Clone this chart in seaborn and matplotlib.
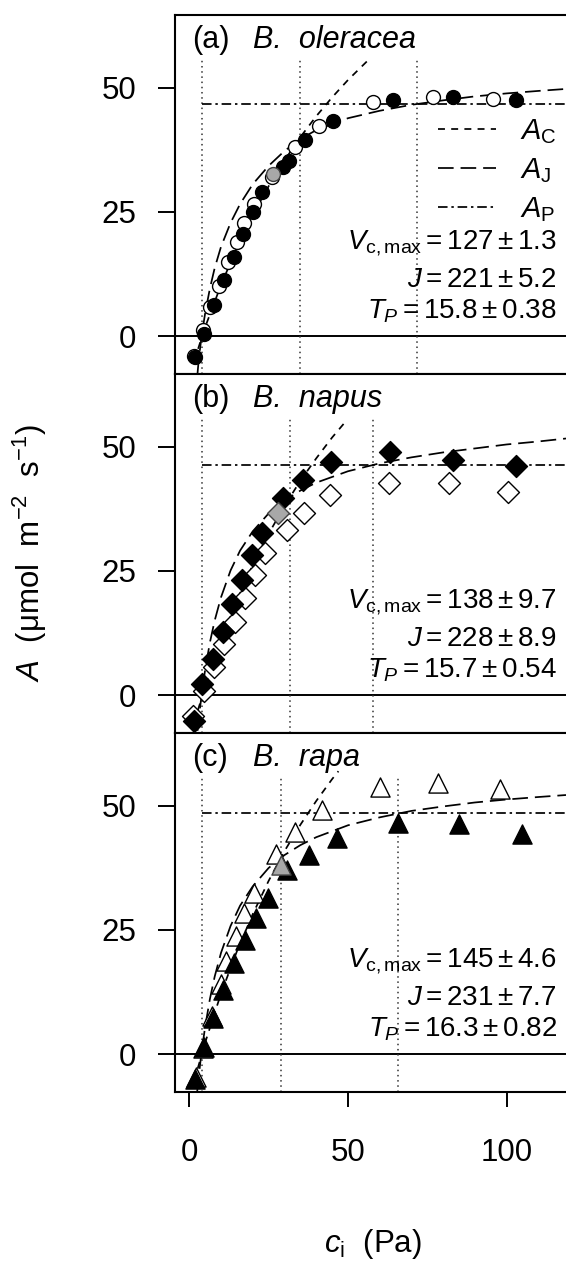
import matplotlib
matplotlib.use("Agg")
import matplotlib.pyplot as plt
from matplotlib.lines import Line2D
import seaborn as sns

# =========================================================
# DATA
# =========================================================

# (a) B. oleracea - circles
a_fill_x = [1.8, 4.6, 7.7, 10.8, 14.0, 17.0, 20.2, 23.0, 29.4, 31.5, 36.5, 45.4, 64.3, 83.2, 103.1]
a_fill_y = [-4.3, 0.4, 6.2, 11.3, 16.0, 20.5, 25.0, 29.0, 34.0, 35.2, 39.5, 43.3, 47.5, 48.2, 47.6]
a_open_x = [1.6, 4.4, 6.5, 9.5, 12.2, 14.9, 17.3, 20.3, 26.0, 33.2, 40.8, 58.0, 76.7, 95.8]
a_open_y = [-4.0, 1.2, 5.8, 10.0, 15.0, 19.0, 22.7, 26.6, 32.0, 38.1, 42.4, 47.2, 48.2, 47.7]
a_grey_x = [26.5]
a_grey_y = [32.6]

# (b) B. napus - diamonds
b_fill_x = [1.6, 4.0, 7.6, 10.7, 13.5, 16.5, 19.7, 22.8, 29.6, 35.8, 44.7, 63.2, 83.2, 102.9]
b_fill_y = [-5.2, 2.2, 7.2, 12.7, 18.4, 23.2, 28.2, 32.6, 39.7, 43.4, 46.9, 48.9, 47.4, 46.1]
b_open_x = [1.3, 4.5, 7.8, 10.9, 14.5, 17.5, 20.6, 23.8, 30.7, 36.2, 44.3, 63.0, 81.9, 100.5]
b_open_y = [-4.3, 0.8, 5.6, 10.3, 14.8, 19.5, 24.1, 28.6, 33.3, 36.6, 40.3, 42.8, 42.8, 41.0]
b_grey_x = [28.0]
b_grey_y = [36.6]

# (c) B. rapa - triangles
c_fill_x = [1.7, 4.6, 7.6, 10.7, 14.0, 17.5, 21.0, 24.8, 30.7, 37.6, 46.5, 65.7, 85.1, 104.9]
c_fill_y = [-5.0, 1.5, 7.3, 13.0, 18.4, 23.0, 27.5, 31.4, 37.1, 40.1, 43.6, 46.5, 46.3, 44.4]
c_open_x = [2.2, 4.2, 7.3, 9.9, 11.5, 14.6, 17.2, 20.4, 27.2, 33.3, 41.8, 60.1, 78.5, 97.9]
c_open_y = [-4.6, 1.2, 7.6, 14.1, 18.8, 23.8, 28.5, 32.5, 40.3, 44.8, 49.2, 53.9, 54.6, 53.4]
c_grey_x = [28.8]
c_grey_y = [38.1]

# model curves
a_ac_x = [1.5, 5, 10, 15, 20, 25, 30, 35, 40, 45, 50, 57]
a_ac_y = [-5.1, 1.8, 10.3, 17.8, 24.4, 30.2, 35.4, 40.1, 44.3, 48.1, 51.6, 56.0]
a_aj_x = [2.6, 3.0, 3.5, 4.0, 5, 6.5, 8, 10, 13, 16, 20, 25, 30, 35, 40, 50, 60, 70, 80, 90, 100, 110, 118.7]
a_aj_y = [-7.5, -4.6, -2.0, 0.5, 4.6, 9.6, 13.7, 18.0, 22.8, 26.6, 30.6, 34.3, 37.3, 39.7, 41.5, 43.9, 45.4, 46.6,
          47.5, 48.3, 48.9, 49.4, 49.8]
a_ap = 46.8

b_ac_x = [1.5, 5, 10, 15, 20, 25, 30, 35, 40, 45, 49.5]
b_ac_y = [-5.6, 1.7, 11.0, 19.1, 26.2, 32.5, 38.1, 43.2, 47.7, 51.9, 55.3]
b_aj_x = [2.6, 3.0, 3.5, 4.0, 5, 6.5, 8, 10, 13, 16, 20, 25, 30, 35, 40, 50, 60, 70, 80, 90, 100, 110, 118.7]
b_aj_y = [-7.2, -4.7, -2.0, 0.6, 5.1, 10.6, 15.0, 19.7, 25.1, 29.1, 33.0, 36.6, 39.2, 41.2, 42.8, 45.1, 46.7, 47.9,
          48.9, 49.7, 50.5, 51.1, 51.7]
b_ap = 46.4

c_ac_x = [1.5, 5, 10, 15, 20, 25, 30, 35, 40, 45, 47]
c_ac_y = [-5.5, 2.3, 12.2, 20.7, 28.2, 34.9, 40.9, 46.2, 51.0, 55.4, 57.0]
c_aj_x = [2.5, 3.0, 3.5, 4.0, 5, 6.5, 8, 10, 13, 16, 20, 25, 30, 35, 40, 50, 60, 70, 80, 90, 100, 110, 118.7]
c_aj_y = [-7.5, -4.4, -1.6, 1.0, 5.5, 11.1, 15.6, 20.4, 25.8, 29.9, 33.8, 37.5, 40.1, 42.1, 43.7, 46.1, 47.7, 49.0,
          49.9, 50.7, 51.3, 51.8, 52.2]
c_ap = 48.5

# transition / limit lines (dotted)
a_dots = [3.9, 35.0, 71.6]
b_dots = [4.1, 31.7, 57.8]
c_dots = [4.1, 28.8, 65.9]

species = ["B.  oleracea", "B.  napus", "B.  rapa"]
letters = ["(a)", "(b)", "(c)"]
vcmax_txt = [r"$V_{\mathrm{c,max}} = 127 \pm 1.3$", r"$V_{\mathrm{c,max}} = 138 \pm 9.7$", r"$V_{\mathrm{c,max}} = 145 \pm 4.6$"]
j_txt = [r"$J = 221 \pm 5.2$", r"$J = 228 \pm 8.9$", r"$J = 231 \pm 7.7$"]
tp_txt = [r"$T_P = 15.8 \pm 0.38$", r"$T_P = 15.7 \pm 0.54$", r"$T_P = 16.3 \pm 0.82$"]

y_ticks = [0, 25, 50]
x_ticks = [0, 50, 100]

# =========================================================
# STYLE
# =========================================================
sns.set_style("ticks")
plt.rcParams.update({
    "font.family": ["Liberation Sans", "DejaVu Sans"],
    "mathtext.fontset": "custom",
    "mathtext.rm": "Liberation Sans",
    "mathtext.it": "Liberation Sans:italic",
    "mathtext.bf": "Liberation Sans:bold",
    "text.color": "black",
    "axes.labelcolor": "black",
    "xtick.color": "black",
    "ytick.color": "black",
    "axes.edgecolor": "black",
})

LS_C = (0, (4.0, 3.6))
LS_J = (0, (9, 4.0))
LS_P = (0, (5.5, 2.2, 1.4, 2.2))
LW = 1.25

XLIM = (-4.5, 118.7)
YLIM = (-7.65, 64.7)
DOT_TOP = 56

panels = [
    dict(fill=(a_fill_x, a_fill_y), open=(a_open_x, a_open_y), grey=(a_grey_x, a_grey_y), marker="o", s=100,
         ac=(a_ac_x, a_ac_y), aj=(a_aj_x, a_aj_y), ap=a_ap, dots=a_dots),
    dict(fill=(b_fill_x, b_fill_y), open=(b_open_x, b_open_y), grey=(b_grey_x, b_grey_y), marker="D", s=125,
         ac=(b_ac_x, b_ac_y), aj=(b_aj_x, b_aj_y), ap=b_ap, dots=b_dots),
    dict(fill=(c_fill_x, c_fill_y), open=(c_open_x, c_open_y), grey=(c_grey_x, c_grey_y), marker="^", s=190,
         ac=(c_ac_x, c_ac_y), aj=(c_aj_x, c_aj_y), ap=c_ap, dots=c_dots),
]

W, H = 566, 1261
fig = plt.figure(figsize=(W / 100, H / 100), dpi=100)

left_px, right_px = 175, 566
top_px, bot_px = 15, 1092
ph = (bot_px - top_px) / 3

for i, p in enumerate(panels):
    t = top_px + i * ph
    ax = fig.add_axes([left_px / W, 1 - (t + ph) / H, (right_px - left_px) / W, ph / H])

    # reference lines
    ax.axhline(0, color="black", lw=1.4, zorder=1)
    ax.vlines(p["dots"], YLIM[0], DOT_TOP, colors="0.2", linestyles=(0, (1, 2.4)), lw=1.1, zorder=1)
    ax.hlines(p["ap"], p["dots"][0], XLIM[1], colors="black", linestyles=LS_P, lw=LW, zorder=2)

    # model curves
    sns.lineplot(x=p["ac"][0], y=p["ac"][1], ax=ax, color="black", lw=LW, linestyle=LS_C,
                 estimator=None, sort=False, legend=False, zorder=2)
    sns.lineplot(x=p["aj"][0], y=p["aj"][1], ax=ax, color="black", lw=LW, linestyle=LS_J,
                 estimator=None, sort=False, legend=False, zorder=2)

    # measurements
    sns.scatterplot(x=p["open"][0], y=p["open"][1], ax=ax, marker=p["marker"], s=p["s"],
                    color="white", edgecolor="black", linewidth=1.0, zorder=3, legend=False)
    sns.scatterplot(x=p["fill"][0], y=p["fill"][1], ax=ax, marker=p["marker"], s=p["s"],
                    color="black", edgecolor="black", linewidth=1.0, zorder=4, legend=False)
    sns.scatterplot(x=p["grey"][0], y=p["grey"][1], ax=ax, marker=p["marker"], s=p["s"],
                    color="#a8a8a8", edgecolor="0.25", linewidth=1.0, zorder=5, legend=False)

    ax.set_xlim(*XLIM)
    ax.set_ylim(*YLIM)
    ax.set_xlabel("")
    ax.set_ylabel("")

    ax.set_yticks(y_ticks)
    ax.tick_params(axis="y", direction="out", length=12, width=1.4, pad=16, labelsize=22.5)
    if i < 2:
        ax.tick_params(axis="x", bottom=False, labelbottom=False)
    else:
        ax.set_xticks(x_ticks)
        ax.tick_params(axis="x", direction="out", length=11, width=1.4, pad=22, labelsize=22.5)

    for side in ["left", "top", "bottom"]:
        ax.spines[side].set_linewidth(1.5)
    ax.spines["right"].set_visible(False)

    # panel title
    ax.text(0.75, 58, letters[i], fontsize=22, va="baseline", ha="left")
    ax.text(20.1, 58, species[i], fontsize=22, style="italic", va="baseline", ha="left")

    # fitted parameters
    ax.text(115.8, 17.6, vcmax_txt[i], fontsize=20, ha="right", va="baseline")
    ax.text(115.8, 9.9, j_txt[i], fontsize=20, ha="right", va="baseline")
    ax.text(115.8, 3.6, tp_txt[i], fontsize=20, ha="right", va="baseline")

    if i == 0:
        handles = [
            Line2D([], [], color="black", lw=LW, linestyle=LS_C),
            Line2D([], [], color="black", lw=LW, linestyle=LS_J),
            Line2D([], [], color="black", lw=LW, linestyle=LS_P),
        ]
        labels = [r"$A_{\mathrm{C}}$", r"$A_{\mathrm{J}}$", r"$A_{\mathrm{P}}$"]
        ax.legend(handles, labels, loc="upper right", bbox_to_anchor=(0.975, 0.715),
                  frameon=False, fontsize=21, handlelength=2.0, handletextpad=0.8,
                  labelspacing=0.35, borderpad=0, borderaxespad=0)

fig.text(372.5 / W, 1 - 1244 / H, r"$c_{\mathrm{i}}$  (Pa)", ha="center", va="center", fontsize=22.5)
fig.text(30 / W, 1 - 553 / H, r"$A$  (μmol  m$^{-2}$  s$^{-1}$)", ha="center", va="center",
         rotation=90, fontsize=22.5)

fig.savefig("out.png", dpi=100)
